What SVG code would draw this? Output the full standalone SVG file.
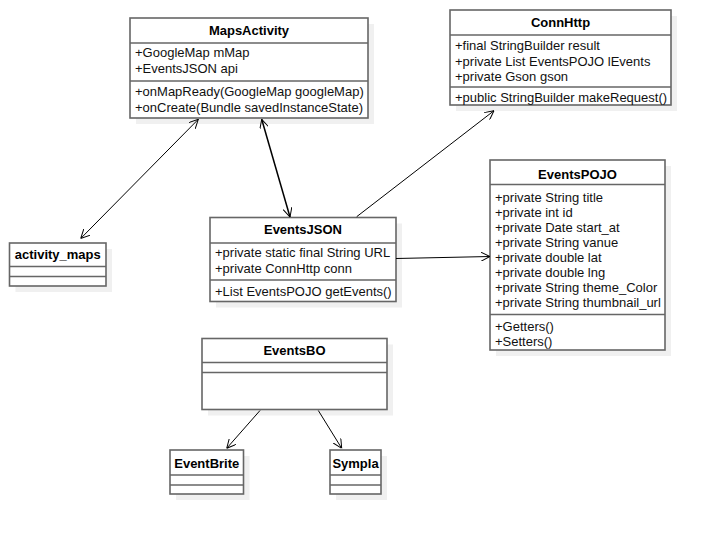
<svg xmlns="http://www.w3.org/2000/svg" width="711" height="534" viewBox="0 0 711 534">
  <style>
    .shadow { fill: #f0f0f0; stroke: none; }
    .box { fill: #ffffff; stroke: #666666; stroke-width: 1.6; }
    .sep { stroke: #666666; stroke-width: 1.6; fill: none; }
    .title { font-family: "Liberation Sans", Arial, sans-serif; font-size: 13px; font-weight: bold; fill: #000; text-anchor: middle; }
    .member { font-family: "Liberation Sans", Arial, sans-serif; font-size: 13px; fill: #111; }
    .link { stroke: #000; stroke-width: 1; fill: none; }
  </style>
  <defs>
    <marker id="open" viewBox="0 0 10 10" refX="10" refY="5" markerWidth="9" markerHeight="9" markerUnits="userSpaceOnUse" orient="auto-start-reverse">
      <path d="M0,0 L10,5 L0,10" fill="none" stroke="#000" stroke-width="1.1"/>
    </marker>
  </defs>

  <rect width="711" height="534" fill="#ffffff"/>

  <!-- class boxes -->
  <g id="MapsActivity">
    <rect class="shadow" x="136" y="24" width="238" height="100"/>
    <rect class="box" x="130" y="18" width="238" height="100"/>
    <line class="sep" x1="130" y1="43" x2="368" y2="43"/>
    <line class="sep" x1="130" y1="81" x2="368" y2="81"/>
    <text class="title" x="249" y="35">MapsActivity</text>
    <text class="member" x="135" y="57">+GoogleMap mMap</text>
    <text class="member" x="135" y="72.5">+EventsJSON api</text>
    <text class="member" x="135" y="96">+onMapReady(GoogleMap googleMap)</text>
    <text class="member" x="135" y="111.5">+onCreate(Bundle savedInstanceState)</text>
  </g>

  <g id="ConnHttp">
    <rect class="shadow" x="456" y="16" width="221" height="95"/>
    <rect class="box" x="450" y="10" width="221" height="95"/>
    <line class="sep" x1="450" y1="35" x2="671" y2="35"/>
    <line class="sep" x1="450" y1="87" x2="671" y2="87"/>
    <text class="title" x="560.5" y="27">ConnHttp</text>
    <text class="member" x="455" y="50">+final StringBuilder result</text>
    <text class="member" x="455" y="65.5">+private List EventsPOJO lEvents</text>
    <text class="member" x="455" y="81">+private Gson gson</text>
    <text class="member" x="455" y="101.5">+public StringBuilder makeRequest()</text>
  </g>

  <g id="EventsPOJO">
    <rect class="shadow" x="496" y="166" width="175" height="190"/>
    <rect class="box" x="490" y="160" width="175" height="190"/>
    <line class="sep" x1="490" y1="184.5" x2="665" y2="184.5"/>
    <line class="sep" x1="490" y1="314.5" x2="665" y2="314.5"/>
    <text class="title" x="577.5" y="178.5">EventsPOJO</text>
    <text class="member" x="495" y="201.5">+private String title</text>
    <text class="member" x="495" y="216.5">+private int id</text>
    <text class="member" x="495" y="231.5">+private Date start_at</text>
    <text class="member" x="495" y="246.5">+private String vanue</text>
    <text class="member" x="495" y="261.5">+private double lat</text>
    <text class="member" x="495" y="276.5">+private double lng</text>
    <text class="member" x="495" y="291.5">+private String theme_Color</text>
    <text class="member" x="495" y="306.5">+private String thumbnail_url</text>
    <text class="member" x="495" y="331">+Getters()</text>
    <text class="member" x="495" y="346">+Setters()</text>
  </g>

  <g id="EventsJSON">
    <rect class="shadow" x="216" y="223.5" width="186" height="84"/>
    <rect class="box" x="210" y="217.5" width="186" height="84"/>
    <line class="sep" x1="210" y1="243" x2="396" y2="243"/>
    <line class="sep" x1="210" y1="280" x2="396" y2="280"/>
    <text class="title" x="303" y="233.5">EventsJSON</text>
    <text class="member" x="215" y="257">+private static final String URL</text>
    <text class="member" x="215" y="272.5">+private ConnHttp conn</text>
    <text class="member" x="215" y="296">+List EventsPOJO getEvents()</text>
  </g>

  <g id="activity_maps">
    <rect class="shadow" x="15.5" y="249" width="96.5" height="43"/>
    <rect class="box" x="9.5" y="243" width="96.5" height="43"/>
    <line class="sep" x1="9.5" y1="266.5" x2="106" y2="266.5"/>
    <line class="sep" x1="9.5" y1="276.5" x2="106" y2="276.5"/>
    <text class="title" x="57.75" y="258.5">activity_maps</text>
  </g>

  <g id="EventsBO">
    <rect class="shadow" x="208" y="344.5" width="185" height="71"/>
    <rect class="box" x="202" y="338.5" width="185" height="71"/>
    <line class="sep" x1="202" y1="362.5" x2="387" y2="362.5"/>
    <line class="sep" x1="202" y1="372.5" x2="387" y2="372.5"/>
    <text class="title" x="294.5" y="355">EventsBO</text>
  </g>

  <g id="EventBrite">
    <rect class="shadow" x="176" y="456" width="73.5" height="44"/>
    <rect class="box" x="170" y="450" width="73.5" height="44"/>
    <line class="sep" x1="170" y1="475" x2="243.5" y2="475"/>
    <line class="sep" x1="170" y1="485" x2="243.5" y2="485"/>
    <text class="title" x="206.75" y="467.5">EventBrite</text>
  </g>

  <g id="Sympla">
    <rect class="shadow" x="336" y="456" width="51" height="44"/>
    <rect class="box" x="330" y="450" width="51" height="44"/>
    <line class="sep" x1="330" y1="475" x2="381" y2="475"/>
    <line class="sep" x1="330" y1="485" x2="381" y2="485"/>
    <text class="title" x="355.5" y="467.5">Sympla</text>
  </g>

  <!-- connectors -->
  <g id="connectors">
    <line class="link" x1="80.7" y1="238.5" x2="198.3" y2="119.3" marker-start="url(#open)" marker-end="url(#open)"/>
    <line class="link" x1="261.7" y1="119.3" x2="290" y2="217" marker-start="url(#open)" marker-end="url(#open)" style="stroke-width:1.5"/>
    <line class="link" x1="356.7" y1="216.7" x2="494" y2="110.7" marker-end="url(#open)"/>
    <line class="link" x1="396" y1="258.5" x2="490" y2="256.5" marker-end="url(#open)"/>
    <line class="link" x1="260" y1="410.5" x2="226.7" y2="448.3" marker-end="url(#open)"/>
    <line class="link" x1="318.3" y1="410.5" x2="341.7" y2="448.3" marker-end="url(#open)"/>
  </g>
</svg>
